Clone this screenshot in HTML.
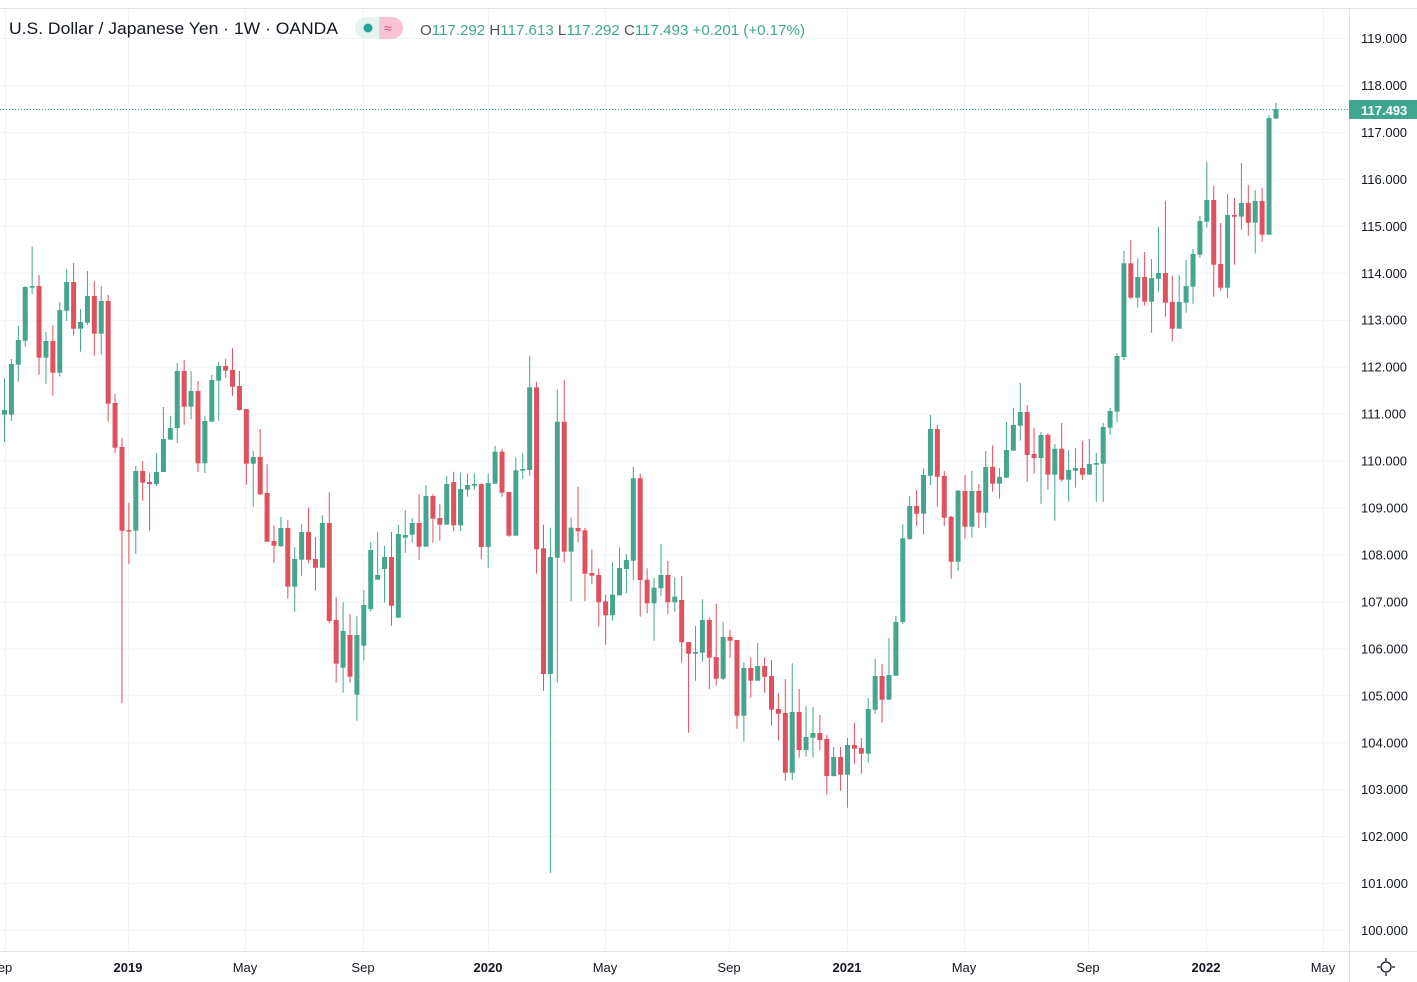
<!DOCTYPE html>
<html><head><meta charset="utf-8">
<style>
html,body{margin:0;padding:0;background:#fff;width:1417px;height:982px;overflow:hidden;font-family:"Liberation Sans","DejaVu Sans",sans-serif;}
svg{display:block}
</style></head>
<body>
<svg id="s" width="1417" height="982" xmlns="http://www.w3.org/2000/svg">
<rect width="1417" height="982" fill="#fff"/>
<g id="grid"></g>
<line x1="0" y1="8.5" x2="1417" y2="8.5" stroke="#e0e3eb"/>
<line x1="1349.5" y1="8" x2="1349.5" y2="982" stroke="#e0e3eb"/>
<line x1="0" y1="951.5" x2="1417" y2="951.5" stroke="#e0e3eb"/>
<g id="c"></g>
<line x1="0" y1="109.5" x2="1349" y2="109.5" stroke="#26a69a" stroke-dasharray="1,2"/>
<g id="ax" font-size="13" fill="#131722"></g>
<rect x="1349" y="100" width="68" height="19" fill="#3fa68f"/>
<text x="1361" y="115" font-size="13" fill="#fff" font-weight="bold">117.493</text>
<g font-size="13" fill="#131722" id="tx"></g>
<text x="9" y="34" font-size="17" fill="#131722" textLength="329" lengthAdjust="spacingAndGlyphs">U.S. Dollar / Japanese Yen · 1W · OANDA</text>
<rect x="355" y="17" width="48" height="22" rx="11" fill="#e6f4f1"/>
<rect x="379" y="17" width="24" height="22" rx="11" fill="#f7c4d5"/>
<rect x="379" y="17" width="10" height="22" fill="#f7c4d5"/>
<circle cx="368" cy="28" r="4.5" fill="#26a69a"/>
<text x="384" y="33" font-size="14" fill="#e0457a">≈</text>
<text x="420" y="35" font-size="15" textLength="385" lengthAdjust="spacingAndGlyphs"><tspan fill="#555">O</tspan><tspan fill="#3fa68f">117.292 </tspan><tspan fill="#555">H</tspan><tspan fill="#3fa68f">117.613 </tspan><tspan fill="#555">L</tspan><tspan fill="#3fa68f">117.292 </tspan><tspan fill="#555">C</tspan><tspan fill="#3fa68f">117.493 +0.201 (+0.17%)</tspan></text>
<g transform="translate(1386,967)" stroke="#131722" stroke-width="1.3" fill="none">
<circle r="5"/>
<line x1="0" y1="-9" x2="0" y2="-6"/><line x1="0" y1="9" x2="0" y2="6"/>
<line x1="-9" y1="0" x2="-6" y2="0"/><line x1="9" y1="0" x2="6" y2="0"/>
</g>
</svg>
<script>
var NS="http://www.w3.org/2000/svg";
function el(p,t,a,txt){var e=document.createElementNS(NS,t);for(var k in a)e.setAttribute(k,a[k]);if(txt)e.textContent=txt;p.appendChild(e);return e;}
var g=document.getElementById('grid'),ax=document.getElementById('ax'),tx=document.getElementById('tx');
for(var i=0;i<=19;i++){var y=38+i*46.95;el(g,'line',{x1:0,x2:1349,y1:y+0.5,y2:y+0.5,stroke:'#f0f3fa'});
el(ax,'text',{x:1361,y:y+5},(119-i)+'.000');}
var vx=[5,128,245,363,488,605,729,847,964,1088,1206,1323];
var vl=['ep','2019','May','Sep','2020','May','Sep','2021','May','Sep','2022','May'];
vx.forEach(function(x,i){el(g,'line',{x1:x+0.5,x2:x+0.5,y1:8,y2:951,stroke:'#f0f3fa'});
var bold=/^\d/.test(vl[i]);el(tx,'text',{x:x,y:972,'text-anchor':'middle','font-weight':bold?'bold':'normal'},vl[i]);});
var D=[
[414.7,410,378,442],[414.7,364,359,421],[364.7,340,326,381.7],[340.7,287,286,346.7],[287.7,286,246.7,294],
[286,357.7,275,374.7],[357.7,341,332,383.7],[341,372.7,325,395.7],[372.7,310,302,376.7],[310.7,282,269,321],
[282,328.7,263,335.7],[328.7,322,309,351.7],[322.7,296,271,325],[296,333.7,281,355.7],[333.7,301,286,354.7],
[301,403.7,295,421.7],[403,447.7,394,453],[447,530.7,438,703.3],[530,531,503,564],[530.7,471,466,554],
[471,482.7,461,500.7],[482,484,473,530.7],[484,472,453,486],[472,439,407,472],[439.7,428,416,439.7],
[428,371,363,443],[371,406.7,360,424.7],[406.7,391,371,419],[391,463.3,381,472],[463.3,421,416,473],
[421.7,380,375,420.7],[380.7,366,362,420.7],[366,370.7,359,377.7],[370,386.7,348.3,395.7],[386,410,371,410.7],
[409,463.7,409,484.7],[463.7,457,451,506.7],[457,494.3,429,495],[493,541.7,464.3,541.7],[541,545.7,525.3,563],
[546.3,528,517,547],[528,586.7,520.3,598.7],[586.7,559,547.3,611.7],[559.7,532,524,575.7],[532,559.7,507.7,563.3],
[559,567.7,537,590.7],[567.7,523,515.3,567.7],[523,621,492.3,623.3],[620,663.7,597,682.7],[667.7,631,602.3,692.7],
[635,676.7,614,682.7],[694.7,635,616.3,720.7],[645.7,605,590,660.7],[609,550,542,611.7],[579.7,575,532,579.7],
[569,557,546,602.7],[557,605.7,532,625.7],[617.7,534,525,617.7],[537.7,535,510,552.7],[534.7,523,518,542.7],
[523,546.7,494,559.7],[546.7,496,485,546.7],[496,518.7,494,542.7],[518,524.7,504,540.7],[524.7,484,476,524.7],
[482,525.3,471.7,531],[525.3,489,472.7,531],[489.7,485,473.3,496.7],[485.7,484,473.3,489.7],[484,547,483.3,558.7],
[547,483,473.7,567.7],[483.7,451.7,445.7,483.7],[451.7,492.7,448.7,496.7],[492,535.7,492,536.7],[535.7,470.3,457.3,535.7],
[470.7,469,452.7,478.7],[470,387.3,356,475.7],[387.3,549.3,381.7,573.7],[548.3,674,524.7,691],[674,557,527.7,873],
[557.7,421.7,389.3,682.7],[421.7,551.7,380,562.7],[551.7,527.7,517.7,601],[528,531.3,486.7,542.3],[530.3,573.7,528,601],
[573,575.7,549.3,584.3],[575,602.3,568.7,626.7],[601.3,615.3,594.7,644.7],[615.3,594.7,562,620.7],[595.3,568,547.3,595.3],
[569,560,554,593.3],[560.7,478.3,466.7,580],[478.3,580,473.7,616.7],[579.7,603.3,568.3,613.3],[603.3,587.7,577.7,640.7],
[588.3,575,544,595.7],[575,602.3,561,614],[602.3,596.7,577.7,611.7],[600,642.3,576,662.7],[642,653.7,642,732.7],
[653.7,652,626,680.7],[652.7,620,599.3,661.7],[620,657.7,617.3,689.3],[657,678.7,603.7,685.7],[678.7,637,622,680],
[637,640.7,630,657.7],[640,715.7,640,728.7],[715.7,668,662.3,741.7],[668,680.7,657.3,697.7],[680.7,666,643,680.7],
[666,676.7,657.3,692.7],[676,709.7,660,725.7],[709,713.7,693.3,740.7],[713,772.7,679,780.7],[772.7,712,663.3,780],
[712,750,689,757.7],[750,737,706,756.7],[737.7,733,707,757.7],[733,740,715,750],[739,776,735,794.7],
[776,757,747,776.7],[757,774.7,747,790.7],[774.7,745,738,807.7],[745,748.7,723,763.7],[748,753.7,738,773.7],
[753.7,709,698,762.7],[709.7,676,659,713.7],[676,699.7,664,722.7],[699.7,675,638,699.7],[675.7,622,616,675.7],
[622,538.3,524.3,624],[539,506,496,540],[506,513.7,490,525.7],[513.7,475,468.3,534.7],[475.7,429,415,485],
[429,476.7,425,506.7],[476,517.7,471,525.7],[516.7,561.7,515.7,578.7],[561.7,490.7,489.7,570.7],[491,526.7,475,538.7],
[526.7,491,471,537.7],[491,512.7,484,527.7],[512.7,467,451,527.7],[467,483.7,445.3,491.7],[483.7,477,468,498.7],
[477.7,450,422,477.7],[450.7,425,408,450.7],[425.7,412,383,440.7],[412,455,405,481.7],[454,458,428,473.7],
[458,435,432,503.7],[435,474.7,433,489.7],[474.7,448.7,444,520.7],[448.7,479.7,423,481.7],[479.7,470,450,501.7],
[470.7,468,448,487.7],[468,474.7,441,479.7],[474.7,464,439,474.7],[464.7,463,453,501.7],[463.7,427,423,501.7],
[427.7,411,408,435],[411.7,356,353,422],[357,263.3,251,360],[263.3,297.7,240,299.3],[297.7,277,258.3,307.7],
[277,301.7,252,305.7],[301.7,278,259,332.7],[278.7,273,227,291.7],[273,302.7,201,316.7],[302,328.7,275.3,341.7],
[328.7,302,275.3,328.7],[302.7,286,260,312.7],[286.7,254,249,303.7],[254.7,221,216,257.7],[221.7,200,162,227.7],
[200,264.7,185.7,296.7],[264,287.7,223,290.7],[287.7,215,194,297.7],[215,216.7,198,264.7],[216.7,203,163,229.7],
[203,222.7,185,235.7],[222.7,201,190,253.7],[201,234.7,188,241.7],[234.7,118,115,234.7],[118.7,109,103,118.7]
];
var c=document.getElementById('c');
D.forEach(function(d,i){
 var x=4.5+i*6.91, o=d[0],cl=d[1],h=d[2],l=d[3];
 var up=cl<o; var col=up?'#45a58e':'#e0515f';
 el(c,'rect',{x:(x-0.5).toFixed(2),y:h,width:1,height:Math.max(l-h,1),fill:col});
 var t=Math.min(o,cl),b=Math.max(o,cl);
 el(c,'rect',{x:(x-2.5).toFixed(2),y:t,width:5,height:Math.max(b-t,1.5),fill:col});
});
</script>
</body></html>
